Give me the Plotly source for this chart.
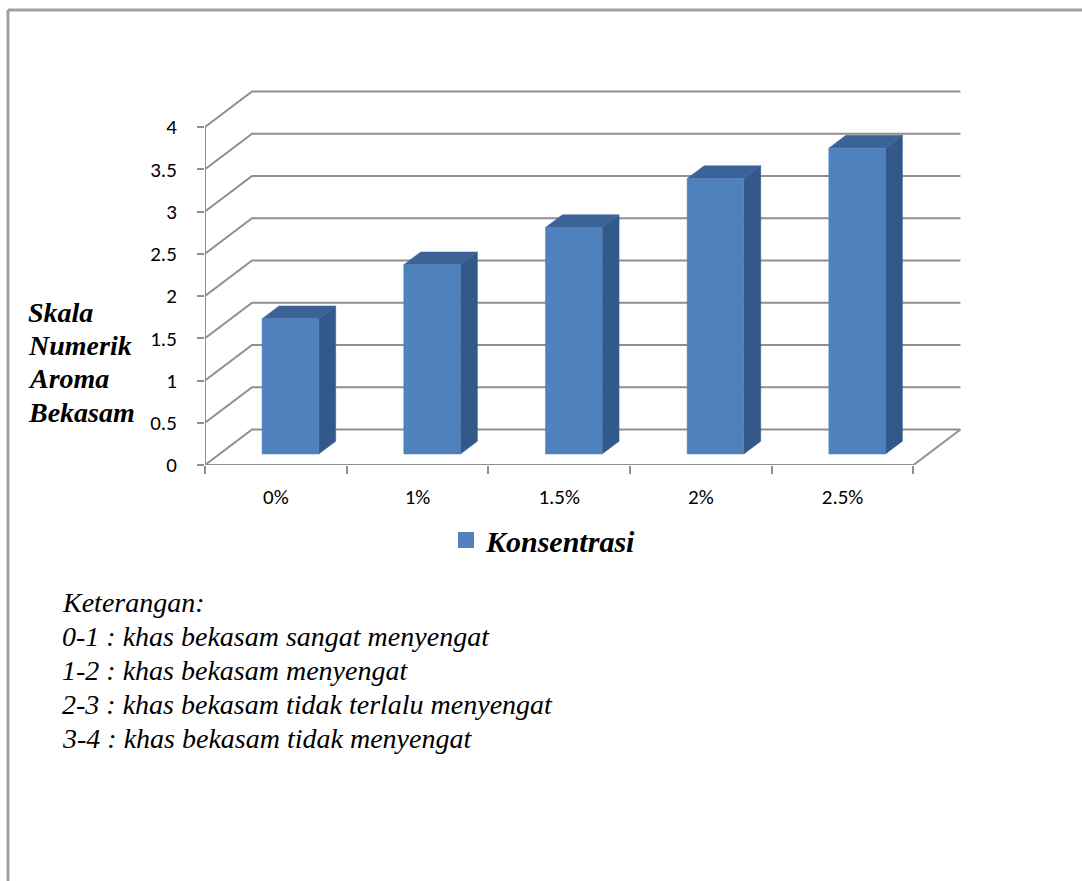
import plotly.graph_objects as go

# Data
categories = ["0%", "1%", "1.5%", "2%", "2.5%"]
scores = [1.6, 2.24, 2.68, 3.26, 3.62]
y_ticks = [0, 0.5, 1, 1.5, 2, 2.5, 3, 3.5, 4]
y_tick_labels = ["0", "0.5", "1", "1.5", "2", "2.5", "3", "3.5", "4"]
axis_title_lines = ["Skala", "Numerik", "Aroma", "Bekasam"]
notes = [
    "Keterangan:",
    "0-1 : khas bekasam sangat menyengat",
    "1-2 : khas bekasam menyengat",
    "2-3 : khas bekasam tidak terlalu menyengat",
    "3-4 : khas bekasam tidak menyengat",
]

# Oblique 3D projection: depth shifts points right/up in data units
DX, DY = 0.332, 0.42
F0, F1 = 0.31, 0.67      # front/back depth of the columns
HALF_W = 0.2             # half width of a column (category units)

FRONT = "#4F81BD"
SIDE = "#33588A"
TOP = "#3C6398"
GRID = "#8F8F8F"

SERIF = "'Times New Roman', 'Liberation Serif', Times, serif"
SANS = "Carlito, Calibri, 'Open Sans', sans-serif"

# Plot-area geometry in pixels
W, H = 1082, 881
ML, MR, MT, MB = 205, 119, 89, 416
PW, PH = W - ML - MR, H - MT - MB


def xp(px):
    return (px - ML) / PW


def yp(py):
    return (H - MB - py) / PH


def proj(x, v, f):
    return x + f * DX, v + f * DY


fig = go.Figure()

# Walls and floor: left-wall diagonals plus back-wall gridlines
n = len(categories)
for v in y_ticks:
    x0, y0 = proj(0, v, 0)
    x1, y1 = proj(0, v, 1)
    x2, y2 = proj(n, v, 1)
    fig.add_trace(go.Scatter(x=[x0, x1, x2], y=[y0, y1, y2], mode="lines",
                             line=dict(color=GRID, width=2),
                             hoverinfo="skip", showlegend=False))

# Front value axis, front floor edge and right floor edge
fig.add_trace(go.Scatter(x=[0, 0], y=[0, y_ticks[-1]], mode="lines",
                         line=dict(color=GRID, width=2),
                         hoverinfo="skip", showlegend=False))
xr, yr = proj(n, 0, 1)
fig.add_trace(go.Scatter(x=[0, n, xr], y=[0, 0, yr], mode="lines",
                         line=dict(color=GRID, width=2),
                         hoverinfo="skip", showlegend=False))


def face(xs, ys, color):
    fig.add_trace(go.Scatter(x=xs + [xs[0]], y=ys + [ys[0]], mode="lines",
                             fill="toself", fillcolor=color,
                             line=dict(color=color, width=0.5),
                             hoverinfo="skip", showlegend=False))


# Columns: front, side and top faces
for i, v in enumerate(scores):
    cx = i + 0.5
    xl, xrt = cx - HALF_W, cx + HALF_W
    a = proj(xl, 0, F0)
    b = proj(xrt, 0, F0)
    c = proj(xrt, v, F0)
    d = proj(xl, v, F0)
    b1 = proj(xrt, 0, F1)
    c1 = proj(xrt, v, F1)
    d1 = proj(xl, v, F1)
    face([b[0], b1[0], c1[0], c[0]], [b[1], b1[1], c1[1], c[1]], SIDE)
    face([d[0], c[0], c1[0], d1[0]], [d[1], c[1], c1[1], d1[1]], TOP)
    face([a[0], b[0], c[0], d[0]], [a[1], b[1], c[1], d[1]], FRONT)

# Legend entry
fig.add_trace(go.Scatter(x=[-5], y=[-5], mode="markers", name="Konsentrasi",
                         marker=dict(symbol="square", size=17, color=FRONT),
                         hoverinfo="skip", showlegend=True))

fig.update_layout(
    width=W, height=H,
    template="none",
    paper_bgcolor="white", plot_bgcolor="white",
    margin=dict(l=ML, r=MR, t=MT, b=MB, pad=0),
    showlegend=True,
    legend=dict(x=xp(446), y=yp(514), xanchor="left", yanchor="top",
                font=dict(family=SERIF, size=30, color="black",
                          weight="bold", style="italic"),
                bgcolor="rgba(0,0,0,0)", borderwidth=0),
    xaxis=dict(range=[0, n + 0.35], showgrid=False, zeroline=False,
               showline=False, automargin=False, fixedrange=True,
               tickmode="array",
               tickvals=[i + 0.5 for i in range(n)], ticktext=categories,
               ticks="", ticklabelstandoff=17,
               tickfont=dict(family=SANS, size=21, color="black"),
               minor=dict(tickmode="array", tickvals=list(range(n + 1)),
                          ticks="outside", ticklen=8, tickwidth=2,
                          tickcolor=GRID, showgrid=False)),
    yaxis=dict(range=[0, 4.45], showgrid=False, zeroline=False,
               showline=False, automargin=False, fixedrange=True,
               tickmode="array", tickvals=y_ticks, ticktext=y_tick_labels,
               ticks="outside", ticklen=7, tickwidth=2, tickcolor=GRID,
               ticklabelstandoff=16,
               tickfont=dict(family=SANS, size=21, color="black")),
)

# Value-axis title, one line per word
for k, line in enumerate(axis_title_lines):
    fig.add_annotation(xref="paper", yref="paper", x=xp(26), y=yp(312 + 33.4 * k),
                       xanchor="left", yanchor="middle", align="left",
                       showarrow=False, text=line,
                       font=dict(family=SERIF, size=28, color="black",
                                 weight="bold", style="italic"))

# Notes under the chart
for k, line in enumerate(notes):
    fig.add_annotation(xref="paper", yref="paper", x=xp(60), y=yp(602 + 34 * k),
                       xanchor="left", yanchor="middle", align="left",
                       showarrow=False, text=line,
                       font=dict(family=SERIF, size=28, color="black",
                                 style="italic"))

# Page frame lines (top and left)
fig.add_shape(type="line", xref="paper", yref="paper",
              x0=xp(8), y0=yp(10), x1=xp(W), y1=yp(10),
              line=dict(color="#A0A0A0", width=3))
fig.add_shape(type="line", xref="paper", yref="paper",
              x0=xp(8), y0=yp(10), x1=xp(8), y1=yp(H),
              line=dict(color="#A0A0A0", width=3))

fig.write_html("out.html")
